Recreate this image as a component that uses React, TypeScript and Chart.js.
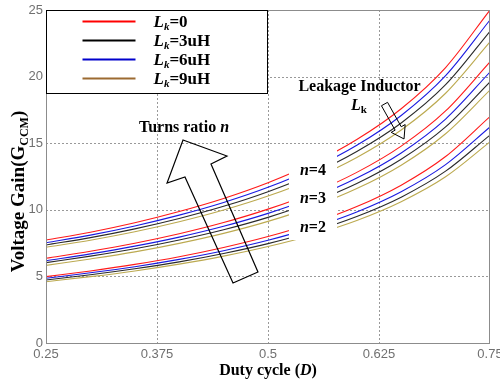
import { useEffect, useRef } from "react";
import { Chart, registerables } from "chart.js";
Chart.register(...registerables);

// Duty cycle sample points (x)
const dutyCycle = [0.25, 0.3, 0.35, 0.4, 0.45, 0.5, 0.55, 0.6, 0.65, 0.7, 0.75];
const xTickValues = [0.25, 0.375, 0.5, 0.625, 0.75];
const yTickValues = [0, 5, 10, 15, 20, 25];

// n = 4
const n4Lk0 = [7.73, 8.32, 9.03, 9.87, 10.85, 12.03, 13.47, 15.28, 17.59, 20.68, 25.0];
const n4Lk6 = [7.53, 8.1, 8.79, 9.6, 10.55, 11.69, 13.09, 14.84, 17.08, 20.07, 24.25];
const n4Lk3 = [7.36, 7.91, 8.57, 9.35, 10.26, 11.36, 12.69, 14.38, 16.52, 19.39, 23.4];
const n4Lk9 = [7.19, 7.72, 8.35, 9.1, 9.98, 11.03, 12.32, 13.93, 15.99, 18.75, 22.6];
// n = 3
const n3Lk0 = [6.36, 6.89, 7.49, 8.2, 9.04, 10.05, 11.27, 12.81, 14.78, 17.42, 21.1];
const n3Lk6 = [6.18, 6.69, 7.27, 7.95, 8.76, 9.73, 10.9, 12.38, 14.27, 16.81, 20.34];
const n3Lk3 = [6.03, 6.52, 7.07, 7.73, 8.5, 9.43, 10.56, 11.97, 13.79, 16.22, 19.6];
const n3Lk9 = [5.83, 6.31, 6.84, 7.48, 8.23, 9.13, 10.22, 11.59, 13.35, 15.71, 18.99];
// n = 2
const n2Lk0 = [4.98, 5.41, 5.9, 6.48, 7.17, 7.99, 8.99, 10.24, 11.85, 14.0, 17.0];
const n2Lk6 = [4.86, 5.27, 5.73, 6.28, 6.93, 7.71, 8.66, 9.84, 11.36, 13.39, 16.22];
const n2Lk3 = [4.73, 5.12, 5.57, 6.09, 6.72, 7.46, 8.37, 9.5, 10.95, 12.9, 15.61];
const n2Lk9 = [4.6, 4.98, 5.41, 5.92, 6.52, 7.24, 8.11, 9.2, 10.61, 12.48, 15.1];

const legendLabels = ["0", "3uH", "6uH", "9uH"];
const legendColors = ["#ff0000", "#000000", "#0000cc", "#9c6a31"];

const curveRed = "#ff1a1a";
const curveBlue = "#1a1ae0";
const curveBlack = "#2a2a2a";
const curveOlive = "#bcaa50";

const serif = '"Liberation Serif", "Times New Roman", serif';
const sans = '"Liberation Sans", Arial, sans-serif';

type Part = { t: string; f: string; dy?: number };

function drawRich(ctx: CanvasRenderingContext2D, x: number, y: number, parts: Part[], align: "left" | "center") {
  let total = 0;
  for (const p of parts) {
    ctx.font = p.f;
    total += ctx.measureText(p.t).width;
  }
  let cx = align === "center" ? x - total / 2 : x;
  ctx.textAlign = "left";
  ctx.textBaseline = "alphabetic";
  for (const p of parts) {
    ctx.font = p.f;
    ctx.fillText(p.t, cx, y + (p.dy || 0));
    cx += ctx.measureText(p.t).width;
  }
}

const dottedGrid = {
  id: "dottedGrid",
  beforeDatasetsDraw(chart: any) {
    const ctx: CanvasRenderingContext2D = chart.ctx;
    const xs = chart.scales.x;
    const ys = chart.scales.y;
    const ca = chart.chartArea;
    ctx.save();
    ctx.strokeStyle = "#999999";
    ctx.lineWidth = 1;
    ctx.setLineDash([2, 2]);
    xTickValues.slice(1, -1).forEach((v) => {
      const x = Math.round(xs.getPixelForValue(v)) + 0.5;
      ctx.beginPath();
      ctx.moveTo(x, ca.top);
      ctx.lineTo(x, ca.bottom);
      ctx.stroke();
    });
    yTickValues.slice(1, -1).forEach((v) => {
      const y = Math.round(ys.getPixelForValue(v)) + 0.5;
      ctx.beginPath();
      ctx.moveTo(ca.left, y);
      ctx.lineTo(ca.right, y);
      ctx.stroke();
    });
    ctx.restore();
  },
};

const annotate = {
  id: "annotate",
  afterDatasetsDraw(chart: any) {
    const ctx: CanvasRenderingContext2D = chart.ctx;
    const xs = chart.scales.x;
    const ys = chart.scales.y;
    const ca = chart.chartArea;
    const px = (d: number) => xs.getPixelForValue(d);
    const py = (v: number) => ys.getPixelForValue(v);
    ctx.save();

    // white background behind n labels
    ctx.fillStyle = "#ffffff";
    ctx.fillRect(px(0.5236), py(14.49), px(0.5777) - px(0.5236), py(7.73) - py(14.49));

    ctx.fillStyle = "#000";
    const b16 = `bold 16px ${serif}`;
    const bi16 = `italic bold 16px ${serif}`;
    // n labels
    const nLabels: [string, number][] = [["=4", 12.61], ["=3", 10.51], ["=2", 8.33]];
    for (const [t, v] of nLabels) {
      drawRich(ctx, px(0.536), py(v), [{ t: "n", f: bi16 }, { t, f: b16 }], "left");
    }
    // Turns ratio
    drawRich(ctx, px(0.4054), py(15.84), [{ t: "Turns ratio ", f: b16 }, { t: "n", f: bi16 }], "center");
    // Leakage inductor
    drawRich(ctx, px(0.6031), py(18.92), [{ t: "Leakage Inductor", f: b16 }], "center");
    drawRich(ctx, px(0.5935), py(17.49), [{ t: "L", f: bi16 }, { t: "k", f: `bold 11px ${serif}`, dy: 3 }], "left");

    // Big hollow arrow
    const big: [number, number][] = [
      [0.4043, 15.24],
      [0.4538, 14.04],
      [0.4358, 13.44],
      [0.4887, 5.33],
      [0.4606, 4.5],
      [0.4065, 12.46],
      [0.3863, 12.01],
    ];
    ctx.strokeStyle = "#000";
    ctx.lineWidth = 1.2;
    ctx.beginPath();
    big.forEach(([d, v], i) => (i === 0 ? ctx.moveTo(px(d), py(v)) : ctx.lineTo(px(d), py(v))));
    ctx.closePath();
    ctx.stroke();

    // Small hollow arrow (Lk)
    const sx = px(0.6312), sy = py(17.94), tx = px(0.6532), ty = py(15.32);
    const dx = tx - sx, dy = ty - sy;
    const len = Math.hypot(dx, dy);
    const ux = dx / len, uy = dy / len;
    const nx = -uy, ny = ux;
    const hw = 3.5, hh = 8, hl = 12;
    const bx = tx - ux * hl, by = ty - uy * hl;
    const pts: [number, number][] = [
      [sx + nx * hw, sy + ny * hw],
      [bx + nx * hw, by + ny * hw],
      [bx + nx * hh, by + ny * hh],
      [tx, ty],
      [bx - nx * hh, by - ny * hh],
      [bx - nx * hw, by - ny * hw],
      [sx - nx * hw, sy - ny * hw],
    ];
    ctx.lineWidth = 1;
    ctx.beginPath();
    pts.forEach(([a, b], i) => (i === 0 ? ctx.moveTo(a, b) : ctx.lineTo(a, b)));
    ctx.closePath();
    ctx.stroke();

    // plot frame
    ctx.strokeStyle = "#8c8c8c";
    ctx.lineWidth = 1;
    ctx.strokeRect(Math.round(ca.left) + 0.5, Math.round(ca.top) + 0.5, Math.round(ca.right - ca.left) - 1, Math.round(ca.bottom - ca.top));

    // Legend
    const lx = Math.round(ca.left) + 0.5;
    const ly = Math.round(ca.top) + 0.5;
    ctx.fillStyle = "#fff";
    ctx.fillRect(lx, ly, 221, 83);
    ctx.strokeStyle = "#000";
    ctx.strokeRect(lx, ly, 221, 83);
    const b17 = `bold 17px ${serif}`;
    const bi17 = `italic bold 17px ${serif}`;
    legendLabels.forEach((lab, i) => {
      const yy = ly + 11 + i * 19;
      ctx.strokeStyle = legendColors[i];
      ctx.lineWidth = 2;
      ctx.beginPath();
      ctx.moveTo(lx + 36, yy);
      ctx.lineTo(lx + 89, yy);
      ctx.stroke();
      ctx.fillStyle = "#000";
      drawRich(ctx, lx + 107, yy + 5, [
        { t: "L", f: bi17 },
        { t: "k", f: `italic bold 11px ${serif}`, dy: 3 },
        { t: "=" + lab, f: b17 },
      ], "left");
    });

    // Axis titles
    ctx.fillStyle = "#000";
    drawRich(ctx, (ca.left + ca.right) / 2, chart.height - 8, [
      { t: "Duty cycle (", f: b16 },
      { t: "D", f: bi16 },
      { t: ")", f: b16 },
    ], "center");
    ctx.save();
    ctx.translate(ca.left - 22, (ca.top + ca.bottom) / 2 + 15);
    ctx.rotate(-Math.PI / 2);
    drawRich(ctx, 0, 0, [
      { t: "Voltage Gain(G", f: `bold 19px ${serif}` },
      { t: "CCM", f: `bold 12px ${serif}`, dy: 4 },
      { t: ")", f: `bold 19px ${serif}` },
    ], "center");
    ctx.restore();

    ctx.restore();
  },
};

function series(values: number[]) {
  return dutyCycle.map((d, i) => ({ x: d, y: values[i] }));
}

export default function App() {
  const ref = useRef<HTMLCanvasElement>(null);
  useEffect(() => {
    if (!ref.current) return;
    const groups = [
      [n4Lk0, n4Lk6, n4Lk3, n4Lk9],
      [n3Lk0, n3Lk6, n3Lk3, n3Lk9],
      [n2Lk0, n2Lk6, n2Lk3, n2Lk9],
    ];
    const colors = [curveRed, curveBlue, curveBlack, curveOlive];
    const datasets: any[] = [];
    groups.forEach((g) =>
      g.forEach((vals, i) =>
        datasets.push({
          data: series(vals),
          borderColor: colors[i],
          borderWidth: 1.1,
          pointRadius: 0,
          cubicInterpolationMode: "monotone",
          fill: false,
        })
      )
    );
    const chart = new Chart(ref.current, {
      type: "line",
      data: { datasets },
      options: {
        responsive: false,
        animation: false,
        layout: { padding: { top: 10, right: 10, left: 0, bottom: 0 }, autoPadding: false } as any,
        plugins: { legend: { display: false }, tooltip: { enabled: false } },
        scales: {
          x: {
            type: "linear",
            min: 0.25,
            max: 0.75,
            afterBuildTicks: (s: any) => {
              s.ticks = xTickValues.map((v) => ({ value: v }));
            },
            afterFit: (s: any) => {
              s.height = 40;
              s.paddingLeft = 0;
              s.paddingRight = 0;
            },
            grid: { display: false, drawTicks: false },
            border: { display: false },
            ticks: {
              autoSkip: false,
              maxRotation: 0,
              padding: 4,
              color: "#707070",
              font: { family: sans, size: 13 },
              callback: (v: any) => String(Number(Number(v).toFixed(3))),
            },
          },
          y: {
            type: "linear",
            min: 0,
            max: 25,
            afterBuildTicks: (s: any) => {
              s.ticks = yTickValues.map((v) => ({ value: v }));
            },
            afterFit: (s: any) => {
              s.width = 46;
              s.paddingTop = 0;
              s.paddingBottom = 0;
            },
            grid: { display: false, drawTicks: false },
            border: { display: false },
            ticks: {
              padding: 3,
              color: "#707070",
              font: { family: sans, size: 13 },
              callback: (v: any) => String(v),
            },
          },
        },
      },
      plugins: [dottedGrid, annotate],
    });
    return () => chart.destroy();
  }, []);
  return (
    <div style={{ position: "fixed", left: 0, top: 0, width: 500, height: 383, background: "#fff" }}>
      <canvas ref={ref} width={500} height={383} style={{ display: "block" }} />
    </div>
  );
}
